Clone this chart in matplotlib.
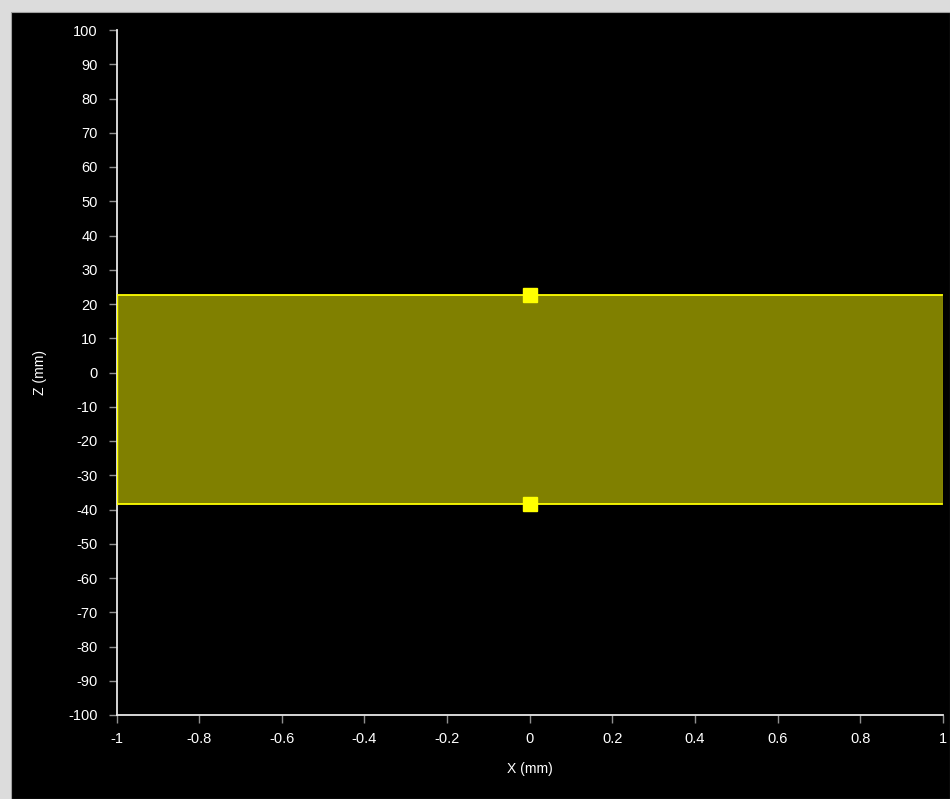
import numpy as np
import matplotlib
matplotlib.use('Agg')
import matplotlib.pyplot as plt
from matplotlib.patches import Rectangle

plt.rcParams['font.family'] = ['Liberation Sans', 'DejaVu Sans']
plt.rcParams['axes.unicode_minus'] = False

# band extent and the two handle points
BandX = [-1.0, 1.0]
BandTop = 22.5
BandBottom = -38.5
HandleX = [0.0, 0.0]
HandleZ = [22.5, -38.5]

XTicks = [-1, -0.8, -0.6, -0.4, -0.2, 0, 0.2, 0.4, 0.6, 0.8, 1]
XTickLbl = ['-1', '-0.8', '-0.6', '-0.4', '-0.2', '0', '0.2', '0.4', '0.6', '0.8', '1']
ZTicks = list(range(-100, 101, 10))

W, H = 950, 799
fig = plt.figure(figsize=(W/100, H/100), dpi=100, facecolor='#dcdcdc')
# black panel inside the light grey frame
fig.patches.append(Rectangle((11/W, 0), 1 - 11/W, 1 - 12/H,
                             transform=fig.transFigure, facecolor='black',
                             edgecolor='#a0a0a0', lw=0.8, zorder=-10))

ax = fig.add_axes([116.5/W, 1 - 715/H, (943 - 116.5)/W, (715 - 30)/H])
ax.set_facecolor('black')

xb = np.array(BandX)
ax.fill_between(xb, BandBottom, BandTop, color='#808000', lw=0, zorder=2)
ax.plot(xb, [BandTop]*2, color='#ffff00', lw=1.3, zorder=3)
ax.plot(xb, [BandBottom]*2, color='#ffff00', lw=1.3, zorder=3)
ax.plot([BandX[1]]*2, [BandBottom, BandTop], color='#999900', lw=1.0, zorder=3)
ax.plot([BandX[0]]*2, [BandBottom, BandTop], color='#ffff00', lw=1.0, zorder=3)
ax.plot(HandleX, HandleZ, 's', ms=10, color='#ffff00', mec='#ffff00', ls='none', zorder=4)

ax.set_xlim(-1, 1)
ax.set_ylim(-100, 100)
ax.set_xticks(XTicks)
ax.set_xticklabels(XTickLbl)
ax.set_yticks(ZTicks)

for s in ('top', 'right'):
    ax.spines[s].set_visible(False)
for s in ('left', 'bottom'):
    ax.spines[s].set_color('#e8e8e8')
    ax.spines[s].set_linewidth(1.3)
ax.tick_params(colors='#909090', labelcolor='white', length=6, width=1,
               labelsize=10.5)
ax.tick_params(axis='y', pad=7.5)
ax.tick_params(axis='x', pad=6)

ax.set_xlabel('X (mm)', color='white', fontsize=10, labelpad=12)
ax.set_ylabel('Z (mm)', color='white', fontsize=10, labelpad=15)

fig.savefig('out.png', dpi=100, facecolor=fig.get_facecolor())
